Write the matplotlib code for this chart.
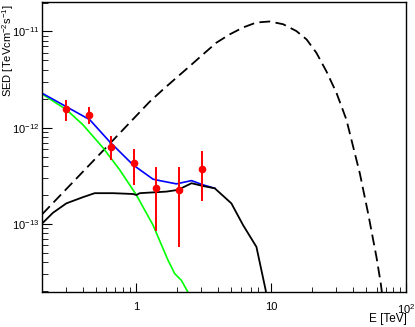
#!/usr/bin/env python3
# -*- coding: utf-8 -*-
"""SED plot, ROOT-like style."""
import math
import matplotlib
matplotlib.use("Agg")
import matplotlib.pyplot as plt
from matplotlib.ticker import LogLocator, NullFormatter, FuncFormatter

plt.rcParams['font.family'] = ['Liberation Sans', 'DejaVu Sans']
plt.rcParams['mathtext.fontset'] = 'custom'
plt.rcParams['mathtext.rm'] = 'Liberation Sans'
plt.rcParams['mathtext.it'] = 'Liberation Sans'

# Mesures (points rouges)
e_pts = [0.303, 0.447, 0.646, 0.96, 1.406, 2.06, 3.05]
sed_pts = [1.57e-12, 1.36e-12, 6.27e-13, 4.30e-13, 2.37e-13, 2.25e-13, 3.75e-13]
sed_lo = [1.18e-12, 1.09e-12, 4.62e-13, 2.53e-13, 8.4e-14, 5.75e-14, 1.74e-13]
sed_hi = [1.95e-12, 1.62e-12, 8.23e-13, 6.03e-13, 3.94e-13, 3.94e-13, 5.78e-13]

# Courbe en tirets
e_dash = [0.201, 0.360, 0.634, 1.254, 1.574, 1.978, 2.48, 3.11, 3.91, 4.91,
          6.16, 7.74, 9.71, 12.2, 15.3, 18.2, 21.5, 25.5, 30.3, 35.9, 39.1,
          45.1, 52.0, 59.9, 64.5, 66.5]
sed_dash = [1.26e-13, 2.96e-13, 6.79e-13, 1.86e-12, 2.49e-12, 3.30e-12, 4.35e-12,
            5.77e-12, 7.64e-12, 9.33e-12, 1.10e-11, 1.24e-11, 1.27e-11, 1.19e-11,
            1.01e-11, 8.27e-12, 6.01e-12, 3.86e-12, 2.30e-12, 1.21e-12, 7.48e-13,
            3.36e-13, 1.28e-13, 4.52e-14, 2.39e-14, 1.7e-14]

# Courbe noire pleine
e_black = [0.201, 0.241, 0.303, 0.402, 0.491, 0.671, 0.944, 1.0, 1.058, 1.668,
           2.03, 2.56, 3.11, 3.80, 5.05, 6.16, 7.74, 9.07, 9.23]
sed_black = [1.01e-13, 1.30e-13, 1.63e-13, 1.89e-13, 2.08e-13, 2.08e-13, 2.04e-13,
             1.99e-13, 2.08e-13, 2.16e-13, 2.25e-13, 2.64e-13, 2.47e-13, 2.34e-13,
             1.63e-13, 9.7e-14, 5.75e-14, 2.03e-14, 1.6e-14]

# Courbe verte
e_green = [0.198, 0.303, 0.402, 0.566, 0.752, 1.0, 1.327, 1.714, 1.921, 2.153,
           2.41, 2.48]
sed_green = [2.26e-12, 1.54e-12, 1.07e-12, 6.17e-13, 3.64e-13, 1.99e-13, 9.7e-14,
             4.18e-14, 3.03e-14, 2.58e-14, 1.94e-14, 1.76e-14]

# Courbe bleue (somme)
e_blue = [0.198, 0.303, 0.451, 0.634, 0.944, 1.327, 1.488, 1.978, 2.56, 3.11, 3.80]
sed_blue = [2.30e-12, 1.65e-12, 1.21e-12, 7.13e-13, 4.10e-13, 2.91e-13, 2.81e-13,
            2.60e-13, 2.81e-13, 2.54e-13, 2.34e-13]

fig = plt.figure(figsize=(4.15, 3.27), dpi=100)
ax = fig.add_axes([0.1012, 0.107, 0.8783, 0.8884])

ax.plot(e_dash, sed_dash, color='black', lw=1.3, ls=(0, (6, 3)))
ax.plot(e_green, sed_green, color='#00ff00', lw=1.2)
ax.plot(e_blue, sed_blue, color='#0000ff', lw=1.2)
ax.plot(e_black, sed_black, color='black', lw=1.3)

yerr = [[v - lo for v, lo in zip(sed_pts, sed_lo)],
        [hi - v for v, hi in zip(sed_pts, sed_hi)]]
ax.errorbar(e_pts, sed_pts, yerr=yerr, fmt='o', color='#ff0000', ms=4.5,
            elinewidth=1.4, capsize=0)

ax.set_xscale('log')
ax.set_yscale('log')
ax.set_xlim(0.2, 100)
ax.set_ylim(1.95e-14, 2.05e-11)

ax.xaxis.set_major_locator(LogLocator(base=10))
ax.xaxis.set_minor_locator(LogLocator(base=10, subs=range(2, 10)))
ax.yaxis.set_minor_locator(LogLocator(base=10, subs=range(2, 10)))
ax.xaxis.set_minor_formatter(NullFormatter())
ax.yaxis.set_minor_formatter(NullFormatter())


def fmt_x(v, pos):
    if abs(v - 1) < 1e-9:
        return '1'
    if abs(v - 10) < 1e-9:
        return '10'
    return r'$10^{%d}$' % round(math.log10(v))


def fmt_y(v, pos):
    return r'$10^{%d}$' % round(math.log10(v))


ax.xaxis.set_major_formatter(FuncFormatter(fmt_x))
ax.yaxis.set_major_formatter(FuncFormatter(fmt_y))

ax.tick_params(axis='both', which='both', direction='in', labelsize=8,
               top=False, right=False)
ax.tick_params(axis='x', which='major', length=6.5, pad=7)
ax.tick_params(axis='x', which='minor', length=3.6)
ax.tick_params(axis='y', which='major', length=7.5, pad=2)
ax.tick_params(axis='y', which='minor', length=4.5)

for s in ax.spines.values():
    s.set_linewidth(1.0)

ax.set_xlabel('E [TeV]', fontsize=8.5, loc='right')
ax.set_ylabel(r'SED [TeVcm$^{-2}$s$^{-1}$]', fontsize=8, loc='top')
ax.xaxis.set_label_coords(1.0, -0.072)
ax.yaxis.set_label_coords(-0.072, 0.99)

fig.savefig('out.png', dpi=100)
